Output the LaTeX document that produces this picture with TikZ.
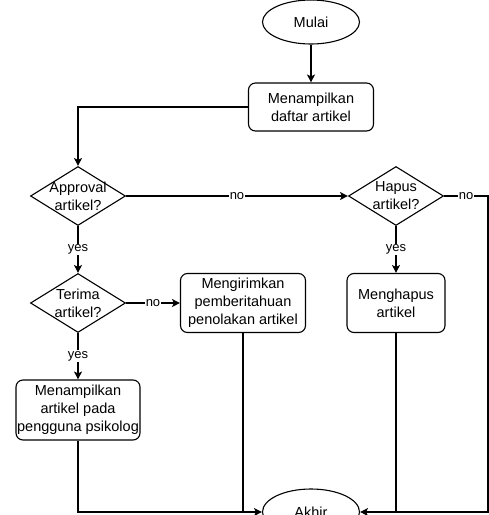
\documentclass[tikz,border=0pt]{standalone}
\usepackage{fontspec}
\setmainfont{Liberation Sans}
\usetikzlibrary{shapes.geometric,arrows.meta}
\begin{document}
\begin{tikzpicture}
    [x=1pt,y=-1pt,line width=1.1pt,>={Stealth[length=8pt,width=8pt,inset=2pt]},
     font=\fontsize{14.5}{18}\selectfont,
     term/.style={ellipse,draw,minimum width=97pt,minimum height=44pt,inner sep=0pt},
     proc/.style={rectangle,rounded corners=7pt,draw,align=center,inner sep=0pt},
     cond/.style={diamond,draw,minimum width=95pt,minimum height=59pt,inner sep=0pt},
     lbl/.style={fill=white,inner sep=1pt,font=\fontsize{13}{15}\selectfont}]
    \useasboundingbox (0,0) rectangle (489,515);
    \clip (0,0) rectangle (489,515);
    \node (mulai) at (311, 22) [term] {Mulai};
    \node (b1) at (311, 107) [proc,minimum width=125pt,minimum height=48pt] {Menampilkan\\daftar artikel};
    \node (d1) at (78, 196) [cond,label={[align=center]center:Approval\\artikel?}] {};
    \node (d2) at (396, 196) [cond,label={[align=center]center:Hapus\\artikel?}] {};
    \node (d3) at (78, 303) [cond,label={[align=center]center:Terima\\artikel?}] {};
    \node (b2) at (243, 303) [proc,minimum width=125pt,minimum height=59pt] {Mengirimkan\\pemberitahuan\\penolakan artikel};
    \node (b3) at (396, 303) [proc,minimum width=98pt,minimum height=59pt] {Menghapus\\artikel};
    \node (b4) at (78, 410) [proc,minimum width=124pt,minimum height=60pt] {Menampilkan\\artikel pada\\pengguna psikolog};
    \node (akhir) at (311, 512) [term,minimum height=46pt] {Akhir};
    \coordinate (r1) at (488, 196);
    \draw [->] (mulai) to (b1);
    \draw [->] (b1.west) -| (d1.north);
    \draw [->] (d1.east) to node [lbl] {no} (d2.west);
    \draw [->] (d1.south) to node [lbl] {yes} (d3.north);
    \draw [->] (d3.east) to node [lbl] {no} (b2.west);
    \draw [->] (d3.south) to node [lbl] {yes} (b4.north);
    \draw [->] (d2.south) to node [lbl] {yes} (b3.north);
    \draw [->] (b4.south) |- (akhir.west);
    \draw (b2.south) to (b2.south |- akhir.west);
    \draw (b3.south) to (b3.south |- akhir.west);
    \draw [->] (d2.east) -- node [lbl] {no} (r1) |- (akhir.east);
  \end{tikzpicture}
\end{document}
